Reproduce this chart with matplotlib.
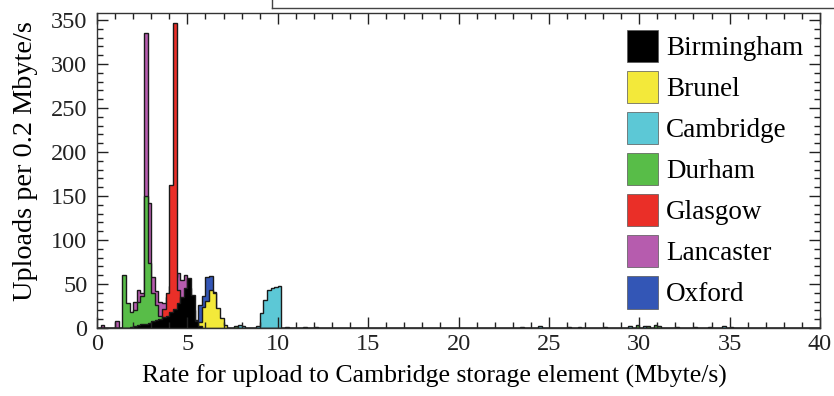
#!/usr/bin/env python3
"""Upload-rate histograms per site, 0.2 Mbyte/s bins."""

import matplotlib
matplotlib.use("Agg")
import matplotlib.pyplot as plt
from matplotlib.lines import Line2D
from matplotlib.patches import Patch
from matplotlib.ticker import MultipleLocator
import numpy as np

plt.rcParams['font.family'] = ['Liberation Serif', 'DejaVu Serif']

# Data: counts per 0.2 Mbyte/s bin, starting at the given rate
BIN_WIDTH = 0.2
RATE_MAX = 40.0

sites = ["Birmingham", "Brunel", "Cambridge", "Durham", "Glasgow", "Lancaster", "Oxford"]
colors = ["#000000", "#f3e93a", "#5cc8d6", "#58bd48", "#ea2f28", "#b65cae", "#3356b6"]

birmingham_start = 1.8
birmingham_counts = [1, 2, 3, 4, 5, 6, 8, 9, 10, 12, 14, 18, 22, 28, 35, 45, 57, 38, 8, 2]

brunel_start = 5.6
brunel_counts = [7, 24, 31, 43, 40, 23, 11, 3]

cambridge_start = 8.8
cambridge_counts = [2, 17, 32, 43, 45, 47, 48]

durham_start = 1.4
durham_counts = [60, 28, 18, 20, 30, 36, 150, 74, 40, 26, 14, 8, 4, 2]

glasgow_start = 3.2
glasgow_counts = [6, 12, 22, 40, 163, 347, 43, 28, 12, 4]

lancaster_start = 2.0
lancaster_counts = [30, 43, 40, 335, 142, 58, 42, 30, 28, 35, 48, 58, 62, 55, 60, 45, 20, 5]

oxford_start = 5.4
oxford_counts = [9, 26, 36, 58, 59, 41, 12, 3]

# sparse low tails (rate, count)
lancaster_tail = [(0.2, 3), (1.0, 8)]
durham_tail = [(7.6, 2), (29.8, 3), (30.4, 2), (30.8, 3), (31.0, 2)]
cambridge_tail = [(7.8, 3), (8.0, 2), (10.4, 1), (11.4, 1), (12.0, 1),
                  (23.4, 1), (24.4, 2), (26.0, 1), (26.6, 1), (28.0, 1),
                  (29.4, 2), (30.2, 2), (32.0, 1), (33.0, 1), (33.8, 1),
                  (34.6, 2), (35.0, 1)]

site_data = {
    "Birmingham": (birmingham_start, birmingham_counts, []),
    "Brunel": (brunel_start, brunel_counts, []),
    "Cambridge": (cambridge_start, cambridge_counts, cambridge_tail),
    "Durham": (durham_start, durham_counts, durham_tail),
    "Glasgow": (glasgow_start, glasgow_counts, []),
    "Lancaster": (lancaster_start, lancaster_counts, lancaster_tail),
    "Oxford": (oxford_start, oxford_counts, []),
}


def to_hist(start, counts, tail):
    n_bins = int(round(RATE_MAX / BIN_WIDTH))
    hist = np.zeros(n_bins)
    i0 = int(round(start / BIN_WIDTH))
    hist[i0:i0 + len(counts)] = counts
    for rate, c in tail:
        hist[int(round(rate / BIN_WIDTH))] = c
    return hist


def main():
    edges = np.linspace(0, RATE_MAX, int(round(RATE_MAX / BIN_WIDTH)) + 1)

    fig = plt.figure(figsize=(8.34, 3.96), dpi=100)
    ax = fig.add_axes([97 / 834, 1 - 328 / 396, (820 - 97) / 834, (328 - 13) / 396])

    # last legend entry drawn first so Birmingham ends up in front
    for site, color in reversed(list(zip(sites, colors))):
        start, counts, tail = site_data[site]
        hist = to_hist(start, counts, tail)
        ax.stairs(hist, edges, fill=True, facecolor=color, edgecolor='none')
        ax.stairs(hist, edges, fill=False, color='#1a1a1a', linewidth=1.0)

    ax.set_xlim(0, 40)
    ax.set_ylim(0, 358)
    ax.xaxis.set_major_locator(MultipleLocator(5))
    ax.xaxis.set_minor_locator(MultipleLocator(1))
    ax.yaxis.set_major_locator(MultipleLocator(50))
    ax.yaxis.set_minor_locator(MultipleLocator(10))
    ax.tick_params(which='both', direction='in', top=True, right=True,
                   labelsize=17.5, colors='#222222', width=1.0)
    ax.tick_params(which='major', length=8)
    ax.tick_params(which='minor', length=4)
    ax.tick_params(axis='y', pad=7)
    ax.tick_params(axis='x', pad=4)
    for sp in ax.spines.values():
        sp.set_linewidth(1.0)
        sp.set_color('#333333')

    ax.set_xlabel("Rate for upload to Cambridge storage element (Mbyte/s)",
                  fontsize=18.5)
    ax.xaxis.set_label_coords(0.467, -0.115)
    ax.set_ylabel("Uploads per 0.2 Mbyte/s", fontsize=20.3)
    ax.yaxis.set_label_coords(-0.081, 0.53)

    handles = [Patch(facecolor=c, edgecolor='#555555', linewidth=0.5) for c in colors]
    ax.legend(handles, sites, loc='upper right', frameon=False, fontsize=19.5,
              handlelength=1.15, handleheight=1.45, handletextpad=0.3,
              labelspacing=0.33, borderaxespad=0.42, borderpad=0.2)

    # remnant of the frame above the plot
    fig.add_artist(Line2D([272 / 834, 1.0], [1 - 8 / 396, 1 - 8 / 396],
                          color='#444444', linewidth=1.0))
    fig.add_artist(Line2D([272 / 834, 272 / 834], [1 - 8 / 396, 1.0],
                          color='#444444', linewidth=1.0))

    fig.savefig("out.png", dpi=100)
    plt.close(fig)


if __name__ == '__main__':
    main()
